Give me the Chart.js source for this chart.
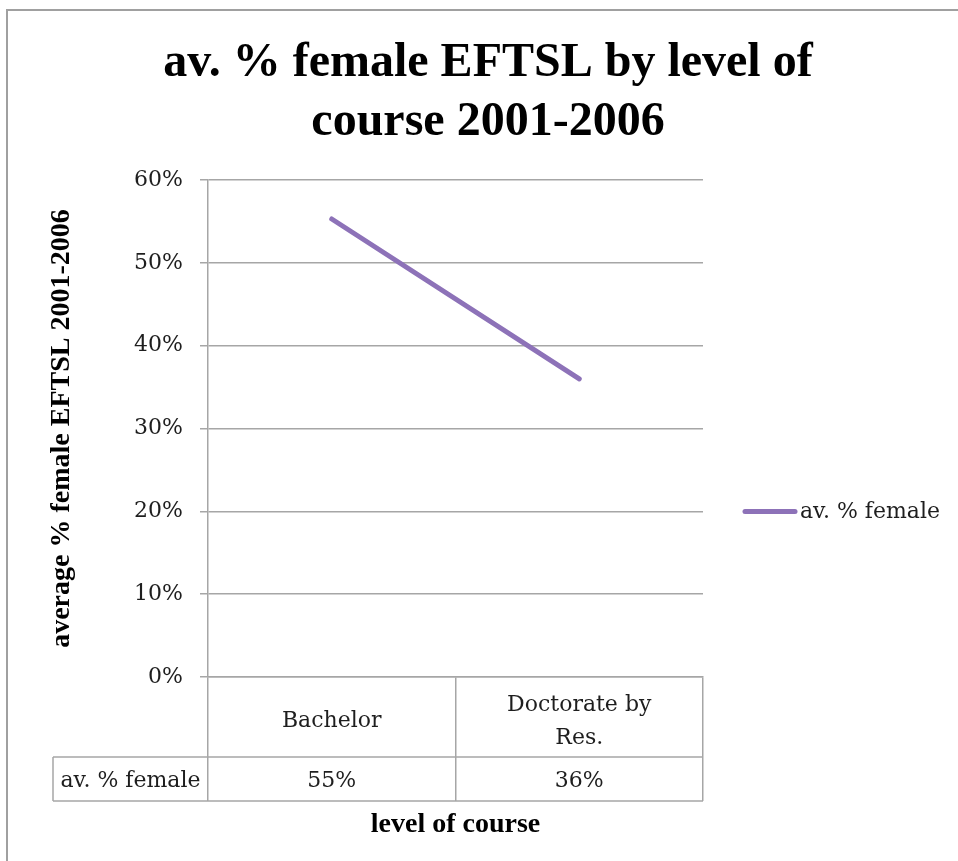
<!DOCTYPE html>
<html>
<head>
<meta charset="utf-8">
<script src="https://cdn.jsdelivr.net/npm/chart.js@4.4.1/dist/chart.umd.min.js"></script>
<style>
  html, body { margin: 0; padding: 0; background: #fff; }
  #wrap { width: 958px; height: 861px; }
</style>
</head>
<body>
<div id="wrap"><canvas id="chart" width="958" height="861"></canvas></div>
<script>
// data
const categories = ["Bachelor", ["Doctorate by", "Res."]];
const seriesName = "av. % female";
const femaleShare = [55.3, 36.0];
const yTicks = [0, 10, 20, 30, 40, 50, 60];

const GRID = "#a6a6a6";
const TEXT = "#1e1e1e";
const PURPLE = "#8d72b8";
const BODY = "'DejaVu Serif', serif";
const BOLD = "'Liberation Serif', 'Times New Roman', serif";

// white background and the outer frame (only top/left edges are visible)
const framePlugin = {
  id: "frame",
  beforeDraw(chart) {
    const c = chart.ctx;
    c.save();
    c.fillStyle = "#fff";
    c.fillRect(0, 0, chart.width, chart.height);
    c.strokeStyle = "#a0a0a0";
    c.lineWidth = 2;
    c.beginPath();
    c.moveTo(7, chart.height + 5);
    c.lineTo(7, 10);
    c.lineTo(chart.width + 5, 10);
    c.stroke();
    c.restore();
  }
};

// data table row under the category axis
const tablePlugin = {
  id: "dataTable",
  afterDraw(chart) {
    const x = chart.scales.x;
    const c = chart.ctx;
    const rowTop = x.top + 80, rowBot = x.top + 124, left = 53;
    c.save();
    c.strokeStyle = GRID;
    c.lineWidth = 1.5;
    c.beginPath();
    c.moveTo(left, rowTop); c.lineTo(x.right, rowTop);
    c.moveTo(left, rowBot); c.lineTo(x.right, rowBot);
    c.moveTo(left, rowTop); c.lineTo(left, rowBot);
    c.stroke();
    c.fillStyle = TEXT;
    c.font = "22px " + BODY;
    c.textAlign = "center";
    c.textBaseline = "middle";
    const midY = (rowTop + rowBot) / 2 + 2;
    c.fillText(seriesName, (left + x.left) / 2, midY);
    femaleShare.forEach((v, i) => c.fillText(Math.round(v) + "%", x.getPixelForValue(i), midY));
    c.restore();
  }
};

// legend entry in the empty band right of the plot (Excel puts it lower than Chart.js would)
const sideLegendPlugin = {
  id: "sideLegend",
  afterDraw(chart) {
    const area = chart.chartArea;
    const c = chart.ctx;
    const y = (area.top + chart.height) / 2 - 9;
    chart.data.datasets.forEach((ds, i) => {
      const x0 = area.right + 40;
      const cy = y + i * 30;
      c.save();
      c.strokeStyle = ds.borderColor;
      c.lineWidth = ds.borderWidth;
      c.lineCap = "round";
      c.beginPath();
      c.moveTo(x0 + 2, cy);
      c.lineTo(x0 + 52, cy);
      c.stroke();
      c.fillStyle = TEXT;
      c.font = "22px " + BODY;
      c.textAlign = "left";
      c.textBaseline = "middle";
      c.fillText(ds.label, x0 + 57, cy + 1);
      c.restore();
    });
  }
};

new Chart(document.getElementById("chart"), {
  type: "line",
  data: {
    labels: categories,
    datasets: [{
      label: seriesName,
      data: femaleShare,
      borderColor: PURPLE,
      backgroundColor: PURPLE,
      borderWidth: 5,
      borderCapStyle: "round",
      pointRadius: 0,
      tension: 0
    }]
  },
  options: {
    responsive: false,
    animation: false,
    devicePixelRatio: 1,
    layout: { padding: { left: 18, right: 0, top: 0, bottom: 19 } },
    plugins: {
      title: {
        display: true,
        text: ["av. % female EFTSL by level of", "course 2001-2006"],
        color: "#000",
        font: { family: BOLD, size: 48, weight: "bold", lineHeight: 1.23 },
        padding: { top: 34, bottom: 28 }
      },
      legend: { display: false },
      tooltip: { enabled: false }
    },
    scales: {
      x: {
        offset: true,
        grid: { display: true, offset: true, drawOnChartArea: false, drawTicks: true, tickLength: 124, color: GRID, lineWidth: 1.5 },
        border: { display: true, color: GRID, width: 1.5 },
        ticks: { color: TEXT, font: { family: BODY, size: 22, lineHeight: 1.5 }, padding: -96, crossAlign: "center", maxRotation: 0, autoSkip: false },
        title: { display: true, text: "level of course", color: "#000", font: { family: BOLD, size: 28, weight: "bold", lineHeight: 1.2 }, padding: 0 },
        afterFit(s) { s.height = 165; }
      },
      y: {
        min: 0,
        max: 60,
        afterBuildTicks(s) { s.ticks = yTicks.map(v => ({ value: v })); },
        grid: { color: GRID, lineWidth: 1.5, tickLength: 8, drawTicks: true },
        border: { display: true, color: GRID, width: 1.5 },
        ticks: { color: TEXT, font: { family: BODY, size: 22 }, padding: 17, callback: v => v + "%" },
        title: { display: true, text: "average % female EFTSL 2001-2006", color: "#000", font: { family: BOLD, size: 28, weight: "bold", lineHeight: 1.2 }, padding: { top: 27, bottom: 0 } },
        afterFit(s) { s.width = 208 - 18; }
      },
      // empty band on the right that holds the legend
      gap: {
        type: "linear",
        position: "right",
        display: true,
        grid: { display: false },
        border: { display: false },
        ticks: { display: false },
        afterFit(s) { s.width = 958 - 703; }
      }
    }
  },
  plugins: [framePlugin, tablePlugin, sideLegendPlugin]
});
</script>
</body>
</html>
